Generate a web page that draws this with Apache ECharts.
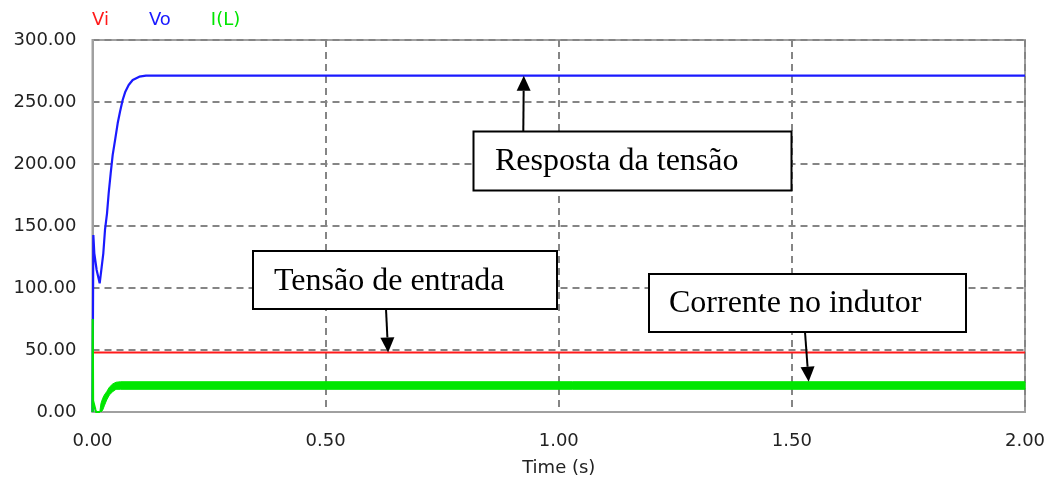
<!DOCTYPE html>
<html><head><meta charset="utf-8">
<script src="https://cdn.jsdelivr.net/npm/echarts@6/dist/echarts.min.js"></script>
<style>html,body{margin:0;padding:0;background:#fff}#c{width:1045px;height:478px}</style>
</head><body><div id="c"></div>
<script>
// ---- data ----
const seriesNames = ['Vi', 'Vo', 'I(L)'];
const xTickValues = [0, 0.5, 1.0, 1.5, 2.0];
const yTickValues = [0, 50, 100, 150, 200, 250, 300];

const viTime = [0, 2.0];
const viValues = [48, 48];

const voTime = [0, 0.0018, 0.0039, 0.0089, 0.0154, 0.0197, 0.0232, 0.0268, 0.0311, 0.0347, 0.039, 0.0433, 0.049, 0.054, 0.059, 0.0647, 0.0704, 0.0776, 0.0862, 0.1004, 0.1147, 2.0];
const voValues = [0, 142.7, 128, 114.5, 103.8, 117, 128, 146.8, 160, 176.4, 192.5, 207.3, 220.7, 232.8, 242.2, 251.6, 258.3, 263.7, 267.7, 270.4, 271.2, 271.2];

const ilTime = [0, 0.0005, 0.0012, 0.004, 0.006, 0.0075, 0.016];
const ilValues = [0, 75, 9, 10, 2, 0, 0];

// ripple envelope of the inductor current (min / max)
const ilBandTime = [0.016, 0.0182, 0.0218, 0.0254, 0.0304, 0.0361, 0.0433, 0.0504, 0.06, 2.0];
const ilBandHigh = [1, 7, 11, 13.7, 16.4, 20, 22.6, 24, 24.4, 24.4];
const ilBandLow = [0, 0, 1.5, 5, 9.7, 13.7, 16.4, 18.3, 18.3, 18.3];

// annotations: text, arrow tip in data coords
const annotTexts = ['Resposta da tensão', 'Tensão de entrada', 'Corrente no indutor'];
const annotTips = [[0.925, 271.2], [0.634, 48], [1.536, 24.4]];

// ---- chart ----
const colors = { Vi: '#ff1a1a', Vo: '#1a1aff', IL: '#00e600' };
const zip = (a, b) => a.map((v, i) => [v, b[i]]);

const chart = echarts.init(document.getElementById('c'), null, { renderer: 'canvas' });
const axisFont = { fontFamily: 'DejaVu Sans', fontSize: 18, color: '#222' };

chart.setOption({
  animation: false,
  backgroundColor: '#ffffff',
  legend: {
    left: 82, top: 6,
    icon: 'none', itemWidth: 0, itemHeight: 0, itemGap: 35,
    selectedMode: false,
    textStyle: { fontFamily: 'DejaVu Sans', fontSize: 18 },
    data: [
      { name: seriesNames[0], textStyle: { color: colors.Vi } },
      { name: seriesNames[1], textStyle: { color: colors.Vo } },
      { name: seriesNames[2], textStyle: { color: colors.IL } }
    ]
  },
  grid: { left: 92.5, right: 20, top: 40, bottom: 66, outerBoundsMode: 'none', containLabel: false,
    show: true, borderColor: '#a0a0a0', borderWidth: 2, backgroundColor: 'transparent' },
  xAxis: {
    type: 'value', min: xTickValues[0], max: xTickValues[xTickValues.length - 1], interval: 0.5,
    name: 'Time (s)', nameLocation: 'middle', nameGap: 47,
    nameTextStyle: axisFont,
    axisLine: { show: true, lineStyle: { color: '#a0a0a0', width: 2 } },
    axisTick: { show: false },
    axisLabel: { ...axisFont, margin: 20, formatter: v => v.toFixed(2) },
    splitLine: { show: true, lineStyle: { color: '#858585', width: 2, type: [7, 5] } }
  },
  yAxis: {
    type: 'value', min: yTickValues[0], max: yTickValues[yTickValues.length - 1], interval: 50,
    axisLine: { show: true, lineStyle: { color: '#a0a0a0', width: 2 } },
    axisTick: { show: false },
    axisLabel: { ...axisFont, margin: 16, formatter: v => v.toFixed(2) },
    splitLine: { show: true, lineStyle: { color: '#858585', width: 2, type: [7, 5] } }
  },
  series: [
    { name: seriesNames[0], type: 'line', data: zip(viTime, viValues), showSymbol: false, symbol: 'none',
      lineStyle: { color: colors.Vi, width: 2 }, itemStyle: { color: colors.Vi }, z: 3 },
    { name: seriesNames[1], type: 'line', data: zip(voTime, voValues), showSymbol: false, symbol: 'none',
      lineStyle: { color: colors.Vo, width: 2.2 }, itemStyle: { color: colors.Vo }, z: 3 },
    { name: seriesNames[2], type: 'custom', z: 4, clip: true,
      itemStyle: { color: colors.IL },
      data: ilBandTime.map((t, i) => [t, ilBandLow[i], ilBandHigh[i]]),
      encode: { x: 0, y: [1, 2] },
      renderItem: (params, api) => {
        if (params.dataIndex !== 0) return { type: 'group', children: [] };
        const top = ilBandTime.map((t, i) => api.coord([t, ilBandHigh[i]]));
        const bot = ilBandTime.map((t, i) => api.coord([t, ilBandLow[i]])).reverse();
        return { type: 'polygon', shape: { points: top.concat(bot) },
          style: { fill: colors.IL, stroke: colors.IL, lineWidth: 1 } };
      }
    },
    { name: seriesNames[2], type: 'line', data: zip(ilTime, ilValues), showSymbol: false, symbol: 'none',
      lineStyle: { color: colors.IL, width: 2.2 }, itemStyle: { color: colors.IL }, z: 4 }
  ]
});

// annotation boxes (layout, pixels) and arrow tails on the box edges
const boxes = [
  { x: 473.5, y: 131.5, w: 318, h: 59, tx: 495, ty: 162, tail: [523.3, 131.5] },
  { x: 253, y: 251, w: 304, h: 58, tx: 274, ty: 281.5, tail: [386, 309] },
  { x: 649, y: 274, w: 317, h: 58, tx: 669, ty: 304, tail: [805, 332] }
];

const graphics = [];
boxes.forEach((b, i) => {
  graphics.push({ type: 'rect', shape: { x: b.x, y: b.y, width: b.w, height: b.h },
    style: { fill: '#fff', stroke: '#000', lineWidth: 2 }, z: 100 });
  graphics.push({ type: 'text', x: b.tx, y: b.ty, z: 101,
    style: { text: annotTexts[i], fill: '#000', font: '32px "Liberation Serif"', verticalAlign: 'middle', align: 'left' } });
  const tip = chart.convertToPixel({ gridIndex: 0 }, annotTips[i]);
  const [tx0, ty0] = b.tail;
  const dx = tip[0] - tx0, dy = tip[1] - ty0;
  const len = Math.hypot(dx, dy), ux = dx / len, uy = dy / len;
  const hl = 15, hw = 7;
  const bx = tip[0] - ux * hl, by = tip[1] - uy * hl;
  graphics.push({ type: 'line', shape: { x1: tx0, y1: ty0, x2: bx, y2: by },
    style: { stroke: '#000', lineWidth: 2 }, z: 100 });
  graphics.push({ type: 'polygon', shape: { points: [[tip[0], tip[1]], [bx - uy * hw, by + ux * hw], [bx + uy * hw, by - ux * hw]] },
    style: { fill: '#000' }, z: 100 });
});
chart.setOption({ graphic: graphics });
</script>
</body></html>
